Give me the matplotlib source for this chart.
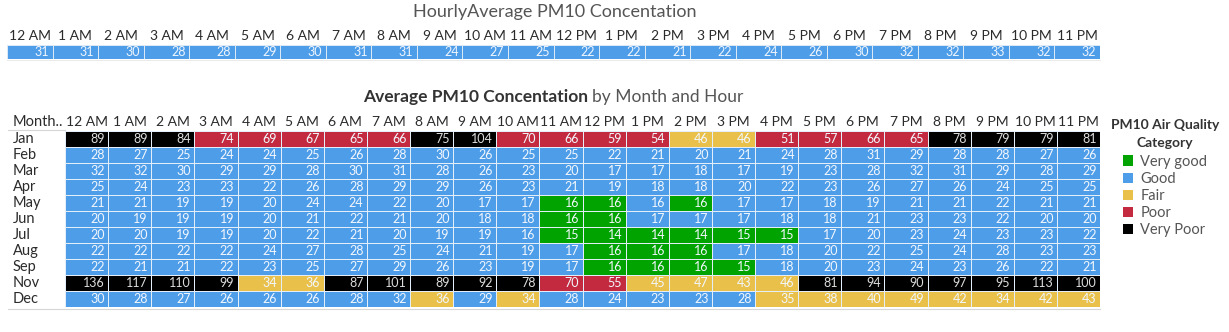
import numpy as np
import matplotlib
matplotlib.use("Agg")
import matplotlib.pyplot as plt
from matplotlib.colors import ListedColormap
from matplotlib.patches import Patch
from matplotlib.lines import Line2D

plt.rcParams['font.family'] = ['Lato', 'DejaVu Sans']

hours = ['12 AM', '1 AM', '2 AM', '3 AM', '4 AM', '5 AM', '6 AM', '7 AM', '8 AM', '9 AM',
         '10 AM', '11 AM', '12 PM', '1 PM', '2 PM', '3 PM', '4 PM', '5 PM', '6 PM', '7 PM',
         '8 PM', '9 PM', '10 PM', '11 PM']
months = ['Jan', 'Feb', 'Mar', 'Apr', 'May', 'Jun', 'Jul', 'Aug', 'Sep', 'Nov', 'Dec']

hourly_avg = [31, 31, 30, 28, 28, 29, 30, 31, 31, 24, 27, 25, 22, 22, 21, 22, 24, 26, 30, 32, 32, 33, 32, 32]

pm10 = [
    [89, 89, 84, 74, 69, 67, 65, 66, 75, 104, 70, 66, 59, 54, 46, 46, 51, 57, 66, 65, 78, 79, 79, 81],
    [28, 27, 25, 24, 24, 25, 26, 28, 30, 26, 25, 25, 22, 21, 20, 21, 24, 28, 31, 29, 28, 28, 27, 26],
    [32, 32, 30, 29, 29, 28, 30, 31, 28, 26, 23, 20, 17, 17, 18, 17, 19, 23, 28, 32, 31, 29, 28, 29],
    [25, 24, 23, 23, 22, 26, 28, 29, 29, 26, 23, 21, 19, 18, 18, 20, 22, 23, 26, 27, 26, 24, 25, 25],
    [21, 21, 19, 19, 20, 24, 24, 22, 20, 17, 17, 16, 16, 16, 16, 17, 17, 18, 19, 21, 21, 22, 21, 21],
    [20, 19, 19, 19, 20, 21, 22, 21, 20, 18, 18, 16, 16, 17, 17, 17, 18, 18, 21, 23, 23, 22, 20, 20],
    [20, 20, 19, 19, 20, 22, 21, 20, 19, 19, 16, 15, 14, 14, 14, 15, 15, 17, 20, 23, 24, 23, 23, 22],
    [22, 22, 22, 22, 24, 27, 28, 25, 24, 21, 19, 17, 16, 16, 16, 17, 18, 20, 22, 25, 24, 28, 23, 23],
    [22, 21, 21, 22, 23, 25, 27, 29, 26, 23, 19, 17, 16, 16, 16, 15, 18, 20, 23, 24, 23, 26, 22, 21],
    [136, 117, 110, 99, 34, 36, 87, 101, 89, 92, 78, 70, 55, 45, 47, 43, 46, 81, 94, 90, 97, 95, 113, 100],
    [30, 28, 27, 26, 26, 26, 28, 32, 36, 29, 34, 28, 24, 23, 23, 28, 35, 38, 40, 49, 42, 34, 42, 43],
]

# g = very good, b = good, f = fair, p = poor, x = very poor
quality = [
    "xxxpppppxxppppffppppxxxx",
    "bbbbbbbbbbbbbbbbbbbbbbbb",
    "bbbbbbbbbbbbbbbbbbbbbbbb",
    "bbbbbbbbbbbbbbbbbbbbbbbb",
    "bbbbbbbbbbbggbgbbbbbbbbb",
    "bbbbbbbbbbbggbbbbbbbbbbb",
    "bbbbbbbbbbbggggggbbbbbbb",
    "bbbbbbbbbbbbgggbbbbbbbbb",
    "bbbbbbbbbbbbggggbbbbbbbb",
    "xxxxffxxxxxppffffxxxxxxx",
    "bbbbbbbbfbfbbbbbffffffff",
]

cat_names = ['Very good', 'Good', 'Fair', 'Poor', 'Very Poor']
cat_codes = ['g', 'b', 'f', 'p', 'x']
cat_colors = ['#00a300', '#4e9de8', '#e8c04a', '#c42a3f', '#000000']
cmap = ListedColormap(cat_colors)

W, H = 1229, 332
fig = plt.figure(figsize=(W / 100, H / 100), dpi=100)


def box(x0, y0, x1, y1):
    return [x0 / W, 1 - y1 / H, (x1 - x0) / W, (y1 - y0) / H]


header_color = '#2b2b2b'
grid_lw = 0.6

# top strip: overall hourly average
ax_top = fig.add_axes(box(7, 45, 1100, 59))
top_vals = np.array([hourly_avg])
ax_top.pcolormesh(np.ones_like(top_vals), cmap=cmap, vmin=0, vmax=len(cat_colors) - 1,
                  edgecolors='#dbe9f7', linewidth=grid_lw)
for j, v in enumerate(hourly_avg):
    ax_top.text(j + 0.92, 0.5, str(v), ha='right', va='center', color='#eef5fd', fontsize=9)
ax_top.set_xlim(0, len(hours))
ax_top.set_ylim(1, 0)
ax_top.set_xticks(np.arange(len(hours)) + 0.5)
ax_top.set_xticklabels(hours, fontsize=10, color=header_color)
ax_top.xaxis.tick_top()
ax_top.tick_params(length=0, pad=2)
ax_top.set_yticks([])
for s in ax_top.spines.values():
    s.set_visible(False)

fig.text(555 / W, 1 - 12 / H, 'HourlyAverage PM10 Concentation', ha='center', va='center',
         fontsize=13, color='#555555')

# main heatmap: month x hour
ax = fig.add_axes(box(65, 131, 1100, 307))
codes = np.array([[cat_codes.index(c) for c in row] for row in quality])
ax.pcolormesh(codes, cmap=cmap, vmin=0, vmax=len(cat_colors) - 1,
              edgecolors='#e4eef8', linewidth=grid_lw)
for i, row in enumerate(pm10):
    for j, v in enumerate(row):
        col = '#dddddd' if quality[i][j] == 'x' else '#f2f7fd'
        ax.text(j + 0.92, i + 0.5, str(v), ha='right', va='center', color=col, fontsize=9)
ax.set_xlim(0, len(hours))
ax.set_ylim(len(months), 0)
ax.set_xticks(np.arange(len(hours)) + 0.5)
ax.set_xticklabels(hours, fontsize=10, color=header_color)
ax.xaxis.tick_top()
ax.tick_params(length=0, pad=2)
ax.set_yticks([])
for s in ax.spines.values():
    s.set_visible(False)

for i, m in enumerate(months):
    ax.text(-52 / 43.1, i + 0.5, m, ha='left', va='center', fontsize=10.5, color=header_color)
ax.text(-52 / 43.1, -0.55, 'Month..', ha='left', va='center', fontsize=10.5, color=header_color)

fig.add_artist(Line2D([8 / W, 65 / W], [1 - 130 / H, 1 - 130 / H], color='#d6d6d6', lw=0.8))
fig.add_artist(Line2D([8 / W, 1100 / W], [1 - 308.5 / H, 1 - 308.5 / H], color='#d6d6d6', lw=0.8))
fig.add_artist(Line2D([7 / W, 1100 / W], [1 - 60 / H, 1 - 60 / H], color='#e6e6e6', lw=0.6))

fig.text(588 / W, 1 - 97 / H, 'Average PM10 Concentation', ha='right', va='center',
         fontsize=12.5, fontweight='bold', color='#333333')
fig.text(592 / W, 1 - 97 / H, 'by Month and Hour', ha='left', va='center',
         fontsize=12.5, color='#555555')

handles = [Patch(facecolor=c, edgecolor='none') for c in cat_colors]
leg = fig.legend(handles, cat_names, loc='upper left', bbox_to_anchor=(1111 / W, 1 - 119 / H),
                 frameon=False, fontsize=10.5, handlelength=0.7, handleheight=0.7,
                 handletextpad=0.5, labelspacing=0.22, borderaxespad=0, borderpad=0,
                 title='PM10 Air Quality\nCategory',
                 title_fontproperties={'weight': 'bold', 'size': 10})
leg.get_title().set_color('#333333')
leg.get_title().set_multialignment('center')
leg.get_title().set_linespacing(1.6)
leg._legend_box.sep = 4
for t in leg.get_texts():
    t.set_color('#555555')

fig.savefig('out.png', dpi=100)
